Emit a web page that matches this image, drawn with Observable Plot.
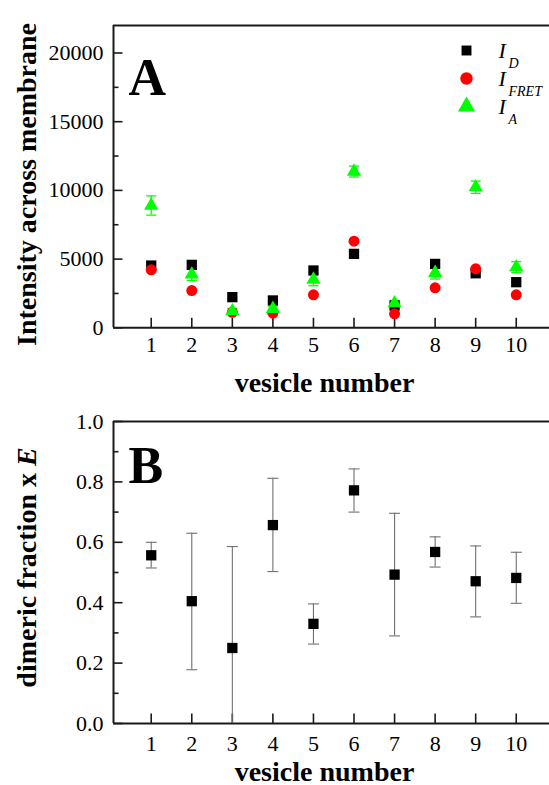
<!DOCTYPE html>
<html><head><meta charset="utf-8">
<script src="https://cdn.jsdelivr.net/npm/d3@7"></script>
<script src="https://cdn.jsdelivr.net/npm/@observablehq/plot@0.6"></script>
<style>
html,body{margin:0;padding:0;background:#fff;overflow:hidden}
#chart svg{display:block}
#chart svg, #chart svg text, #chart svg tspan{font-family:"Liberation Serif","Times New Roman","DejaVu Serif",serif !important}
</style></head><body><div id="chart"></div>
<script>
// ---- data ----
const vesicles = [1, 2, 3, 4, 5, 6, 7, 8, 9, 10];
const intensityD    = [4530, 4580, 2230, 1990, 4170, 5380, 1620, 4650, 3970, 3320];
const intensityFRET = [4220, 2710, 1130, 1060, 2400, 6300, 1020, 2910, 4290, 2400];
const intensityA    = [8900, 3880, 1210, 1380, 3510, 11370, 1790, 4000, 10230, 4410];
const intensityAErr = [700, 450, 200, 200, 450, 400, 200, 450, 450, 400];
const dimericE     = [0.557, 0.405, 0.250, 0.657, 0.330, 0.772, 0.493, 0.568, 0.471, 0.482];
const dimericELow  = [0.515, 0.178, -0.085, 0.503, 0.263, 0.700, 0.290, 0.518, 0.353, 0.398];
const dimericEHigh = [0.600, 0.630, 0.586, 0.812, 0.396, 0.843, 0.696, 0.618, 0.588, 0.567];
const yTicksA = [0, 5000, 10000, 15000, 20000];
const yMinorA = [2500, 7500, 12500, 17500];
const yTicksB = [0, 0.2, 0.4, 0.6, 0.8, 1.0];
const yMinorB = [0.1, 0.3, 0.5, 0.7, 0.9];
const legendSeries = [
  {main: "I", sub: "D", symbol: "square", color: "#000000"},
  {main: "I", sub: "FRET", symbol: "circle", color: "#ff0000"},
  {main: "I", sub: "A", symbol: "triangle", color: "#00ff00"}
];
const xTitle = "vesicle number";
const yTitleA = "Intensity across membrane";
const yTitleB = "dimeric fraction x ";
const yTitleBItalic = "E";

// ---- layout ----
const W = 549, ML = 113, MR = 0;
const xDomain = [0.07, 10.82];
const font = "Liberation Serif";
const axisColor = "#1a1a1a";
const hTick = len => ({draw(ctx) { ctx.moveTo(0, 0); ctx.lineTo(len, 0); }});
const vTick = len => ({draw(ctx) { ctx.moveTo(0, 0); ctx.lineTo(0, -len); }});
const cap = w => ({draw(ctx) { ctx.moveTo(-w / 2, 0); ctx.lineTo(w / 2, 0); }});

function frame(yDomain, majors, minors, fmt, labelPad) {
  return [
    Plot.ruleY([yDomain[1]], {stroke: axisColor, strokeWidth: 2}),
    Plot.ruleY([yDomain[0]], {stroke: axisColor, strokeWidth: 2}),
    Plot.ruleX([xDomain[0]], {stroke: axisColor, strokeWidth: 2}),
    Plot.dot(majors, {x: xDomain[0], y: d => d, symbol: hTick(9), stroke: axisColor, strokeWidth: 1.6, fill: "none"}),
    Plot.dot(minors, {x: xDomain[0], y: d => d, symbol: hTick(5), stroke: axisColor, strokeWidth: 1.6, fill: "none"}),
    Plot.dot(vesicles, {x: d => d, y: yDomain[0], symbol: vTick(10), stroke: axisColor, strokeWidth: 1.6, fill: "none"}),
    Plot.axisY(majors, {tickSize: 0, tickPadding: 10, tickFormat: fmt, label: null, fontSize: 22, fontFamily: font}),
    Plot.axisX(vesicles, {tickSize: 0, tickPadding: labelPad, tickFormat: d => String(d), label: null, fontSize: 22, fontFamily: font})
  ];
}

const rows = vesicles.map((v, i) => ({
  v, d: intensityD[i], f: intensityFRET[i], a: intensityA[i],
  aLo: intensityA[i] - intensityAErr[i], aHi: intensityA[i] + intensityAErr[i],
  e: dimericE[i], eLo: dimericELow[i], eHi: dimericEHigh[i]
}));

// ---- panel A ----
const hA = 400, topA = 25, botA = 327.3;
const legendMarks = legendSeries.flatMap((s, i) => {
  const base = 57 - topA + i * 28;
  return [
    Plot.dot([s], {frameAnchor: "top-left", dx: 466 - ML, dy: base - 7, symbol: s.symbol, fill: s.color,
      r: s.symbol === "square" ? 5.6 : s.symbol === "circle" ? 6.2 : 6.4}),
    Plot.text([s], {frameAnchor: "top-left", dx: 498 - ML, dy: base, text: d => d.main, textAnchor: "start",
      lineAnchor: "bottom", fontSize: 22, fontStyle: "italic", fontFamily: font}),
    Plot.text([s], {frameAnchor: "top-left", dx: 508 - ML, dy: base + 10, text: d => d.sub, textAnchor: "start",
      lineAnchor: "bottom", fontSize: 14, fontStyle: "italic", fontFamily: font})
  ];
});
const plotA = Plot.plot({
  width: W, height: hA, marginLeft: ML, marginRight: MR, marginTop: topA, marginBottom: hA - botA,
  style: {fontFamily: font, fontSize: "22px", color: "#000", background: "white", overflow: "visible"},
  x: {domain: xDomain},
  y: {domain: [0, 22000]},
  marks: [
    ...frame([0, 22000], yTicksA, yMinorA, d => String(d), 9),
    Plot.ruleX(rows, {x: "v", y1: "aLo", y2: "aHi", stroke: "#00ff00", strokeWidth: 1.3}),
    Plot.dot(rows, {x: "v", y: "aLo", symbol: cap(10), stroke: "#00ff00", strokeWidth: 1.3, fill: "none"}),
    Plot.dot(rows, {x: "v", y: "aHi", symbol: cap(10), stroke: "#00ff00", strokeWidth: 1.3, fill: "none"}),
    Plot.dot(rows, {x: "v", y: "d", symbol: "square", r: 5.8, fill: "#000000"}),
    Plot.dot(rows, {x: "v", y: "f", symbol: "circle", r: 5.5, fill: "#ff0000"}),
    Plot.dot(rows, {x: "v", y: "a", symbol: "triangle", r: 5.3, fill: "#00ff00"}),
    ...legendMarks,
    Plot.text(["A"], {frameAnchor: "top-left", dx: 128 - ML, dy: 94 - topA, textAnchor: "start", lineAnchor: "bottom",
      fontSize: 52, fontWeight: "bold", fontFamily: font}),
    Plot.text([xTitle], {frameAnchor: "bottom", dx: 324 - (ML + W) / 2, dy: 391 - botA, lineAnchor: "bottom",
      fontSize: 28, fontWeight: "bold", fontFamily: font}),
    Plot.text([yTitleA], {frameAnchor: "left", dx: 27 - ML, dy: 184 - (topA + botA) / 2, rotate: -90,
      textAnchor: "middle", lineAnchor: "middle", fontSize: 28, fontWeight: "bold", fontFamily: font})
  ]
});

// ---- panel B ----
const hB = 385, topB = 21, botB = 323;
const plotB = Plot.plot({
  width: W, height: hB, marginLeft: ML, marginRight: MR, marginTop: topB, marginBottom: hB - botB,
  style: {fontFamily: font, fontSize: "22px", color: "#000", background: "white", overflow: "visible"},
  x: {domain: xDomain},
  y: {domain: [0, 1]},
  marks: [
    ...frame([0, 1], yTicksB, yMinorB, d3.format(".1f"), 12),
    Plot.ruleX(rows, {x: "v", y1: d => Math.max(0, d.eLo), y2: "eHi", stroke: "#707070", strokeWidth: 1.1}),
    Plot.dot(rows.filter(d => d.eLo >= 0), {x: "v", y: "eLo", symbol: cap(11), stroke: "#707070", strokeWidth: 1.1, fill: "none"}),
    Plot.dot(rows, {x: "v", y: "eHi", symbol: cap(11), stroke: "#707070", strokeWidth: 1.1, fill: "none"}),
    Plot.dot(rows, {x: "v", y: "e", symbol: "square", r: 5.8, fill: "#000000"}),
    Plot.text(["B"], {frameAnchor: "top-left", dx: 128 - ML, dy: 482 - 400 - topB, textAnchor: "start", lineAnchor: "bottom",
      fontSize: 52, fontWeight: "bold", fontFamily: font}),
    Plot.text([xTitle], {frameAnchor: "bottom", dx: 324 - (ML + W) / 2, dy: 780 - 400 - botB, lineAnchor: "bottom",
      fontSize: 28, fontWeight: "bold", fontFamily: font}),
    Plot.text([yTitleB], {frameAnchor: "left", dx: 27 - ML, dy: (567 - 400) - (topB + botB) / 2, rotate: -90,
      textAnchor: "middle", lineAnchor: "middle", fontSize: 28, fontWeight: "bold", fontFamily: font})
  ]
});

const root = document.getElementById("chart");
root.append(plotA, plotB);
// italic E in panel B y title
plotB.querySelectorAll("text").forEach(t => {
  if (t.textContent === yTitleB) {
    const ts = document.createElementNS("http://www.w3.org/2000/svg", "tspan");
    ts.setAttribute("font-style", "italic");
    ts.textContent = yTitleBItalic;
    t.appendChild(ts);
  }
});
</script>
</body></html>
